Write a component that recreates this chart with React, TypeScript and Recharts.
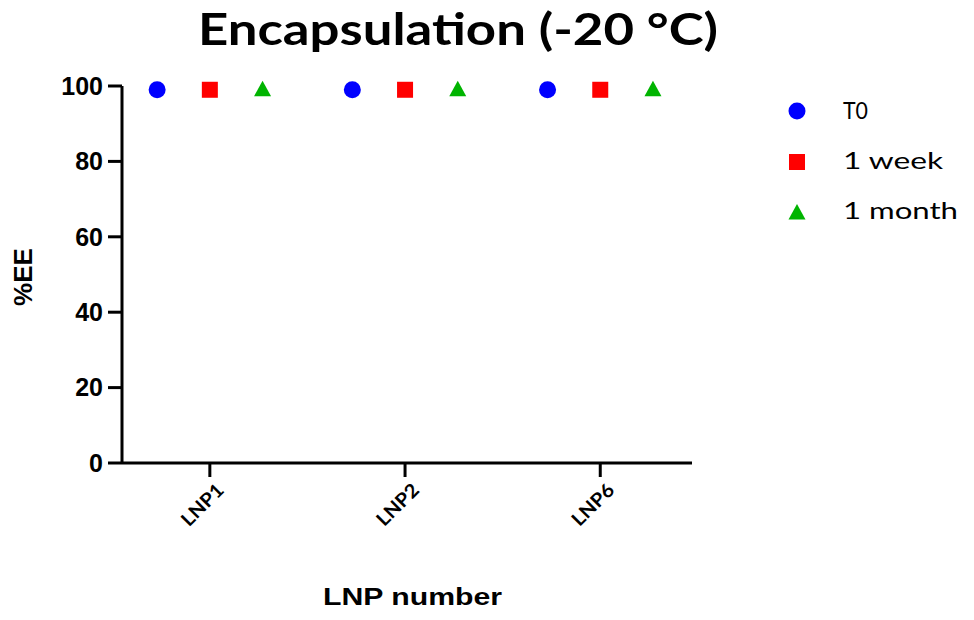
import React from 'react';
import { ScatterChart, Scatter, XAxis, YAxis } from 'recharts';

const categories = ['LNP1', 'LNP2', 'LNP6'];
const seriesNames = ['T0', '1 week', '1 month'];
const t0Values = [99, 99, 99];
const weekValues = [99, 99, 99];
const monthValues = [99, 99, 99];
const yTicks = [0, 20, 40, 60, 80, 100];

const offsets = [-0.27, 0, 0.27];
const colors = ['#0000FF', '#FF0000', '#00B400'];
const legendWidths = [25, 100, 115];

const toPoints = (vals: number[], s: number) =>
  vals.map((v, i) => ({ x: i + 1 + offsets[s], y: v, name: categories[i] }));

const Marker = ({ kind, cx, cy, color }: { kind: number; cx: number; cy: number; color: string }) => {
  if (kind === 0) return <circle cx={cx} cy={cy} r={8.5} fill={color} />;
  if (kind === 1) return <rect x={cx - 8} y={cy - 8} width={16} height={16} fill={color} />;
  return <polygon points={`${cx},${cy - 9} ${cx + 8.5},${cy + 6.5} ${cx - 8.5},${cy + 6.5}`} fill={color} />;
};

const XTick = (props: any) => {
  const { x, y, payload } = props;
  const idx = Math.round(payload.value) - 1;
  const ax = x + 10;
  const ay = y + 7;
  return (
    <text
      x={ax}
      y={ay}
      transform={`rotate(-45, ${ax}, ${ay})`}
      textAnchor="end"
      dominantBaseline="central"
      fontFamily="Lato, 'DejaVu Sans', sans-serif"
      fontWeight={700}
      fontSize={19}
      textLength={51}
      lengthAdjust="spacingAndGlyphs"
      fill="#000"
    >
      {categories[idx]}
    </text>
  );
};

export default function App() {
  const series = [t0Values, weekValues, monthValues];
  return (
    <div style={{ position: 'absolute', left: 0, top: 0, width: 974, height: 620, background: '#fff' }}>
      <ScatterChart width={974} height={620} margin={{ top: 86, right: 282, bottom: 0, left: 0 }}>
        <XAxis
          type="number"
          dataKey="x"
          domain={[0.55, 3.47]}
          ticks={[1, 2, 3]}
          allowDataOverflow
          height={157}
          stroke="#000"
          strokeWidth={3}
          tickSize={14}
          tick={<XTick />}
          label={{
            content: () => (
              <text
                x={323}
                y={605}
                textAnchor="start"
                fontFamily="'Liberation Sans', Arial, sans-serif"
                fontWeight={700}
                fontSize={24}
                textLength={179}
                lengthAdjust="spacingAndGlyphs"
                fill="#000"
              >
                LNP number
              </text>
            ),
          }}
        />
        <YAxis
          type="number"
          dataKey="y"
          domain={[0, 100]}
          ticks={yTicks}
          width={122}
          stroke="#000"
          strokeWidth={3}
          tickSize={14}
          tickMargin={5}
          tick={{ fill: '#000', fontFamily: "'Liberation Sans', Arial, sans-serif", fontWeight: 700, fontSize: 25 }}
          label={{
            content: () => (
              <text
                x={32}
                y={277}
                transform="rotate(-90, 32, 277)"
                textAnchor="middle"
                fontFamily="'Liberation Sans', Arial, sans-serif"
                fontWeight={700}
                fontSize={26}
                fill="#000"
              >
                %EE
              </text>
            ),
          }}
        />
        {series.map((vals, s) => (
          <Scatter
            key={seriesNames[s]}
            name={seriesNames[s]}
            data={toPoints(vals, s)}
            isAnimationActive={false}
            shape={(p: any) => <Marker kind={s} cx={p.cx} cy={p.cy} color={colors[s]} />}
          />
        ))}
      </ScatterChart>
      <svg width={974} height={620} style={{ position: 'absolute', left: 0, top: 0, pointerEvents: 'none' }}>
        <text
          x={198}
          y={45}
          fontFamily="Lato, 'DejaVu Sans', sans-serif"
          fontWeight={700}
          fontSize={44}
          textLength={520}
          lengthAdjust="spacingAndGlyphs"
          fill="#000"
        >
          Encapsulation (-20 °C)
        </text>
        {seriesNames.map((n, s) => (
          <g key={n}>
            <Marker kind={s} cx={797} cy={111 + s * 51} color={colors[s]} />
            <text
              x={843}
              y={119 + s * 50}
              fontFamily="Lato, 'DejaVu Sans', sans-serif"
              fontWeight={400}
              fontSize={24}
              textLength={legendWidths[s]}
              lengthAdjust="spacingAndGlyphs"
              fill="#000"
            >
              {n}
            </text>
          </g>
        ))}
      </svg>
    </div>
  );
}
